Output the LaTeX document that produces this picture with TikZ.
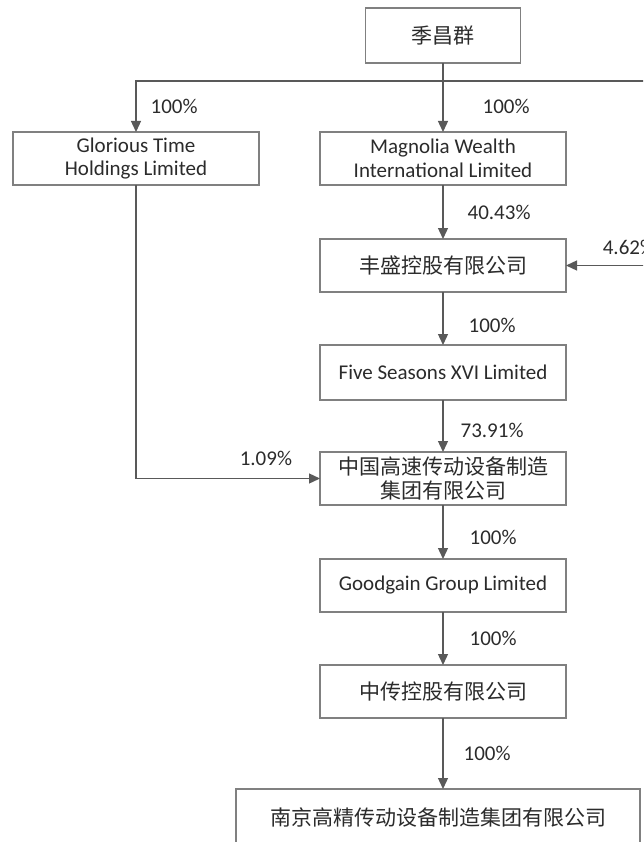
\documentclass[tikz,border=0pt]{standalone}
\usepackage{fontspec}
\setmainfont{Carlito}
\newfontfamily\cjk{Noto Sans CJK SC}
\usetikzlibrary{positioning,arrows.meta}

\definecolor{boxgray}{HTML}{808080}
\definecolor{linegray}{HTML}{595959}
\definecolor{txtgray}{HTML}{2B2B2B}

\tikzset{
  firm/.style={draw=boxgray, line width=1.4pt, fill=white, text=txtgray,
    minimum width=246pt, minimum height=53pt, inner sep=2pt, outer sep=0pt,
    align=center, font=\fontsize{21pt}{23.5pt}\selectfont},
  firmcn/.style={firm, font=\cjk\fontsize{21pt}{24pt}\selectfont},
  conn/.style={draw=linegray, line width=1.3pt, -{Triangle[length=11pt,width=10pt]}},
  pct/.style={text=txtgray, inner sep=0pt, font=\fontsize{21pt}{24pt}\selectfont},
}

\begin{document}
\begin{tikzpicture}[x=1pt,y=1pt]
  \useasboundingbox (0,0) rectangle (643,-842);
  \clip (0,0) rectangle (643,-842);

  \node[firmcn, minimum width=155pt, minimum height=55pt] (Jcq) at (443,-35.5) {季昌群};
  \node[firm, below = 69pt of Jcq] (Mw) {Magnolia Wealth\\International Limited};
  \node[firm, left = 61pt of Mw] (Gt) {Glorious Time\\Holdings Limited};
  \node[firmcn, below = 54pt of Mw] (Fs) {丰盛控股有限公司};
  \node[firm, below = 53pt of Fs, minimum height=55pt] (Fv) {Five Seasons XVI Limited};
  \node[firmcn, below = 52pt of Fv] (Zg) {中国高速传动设备制造\\集团有限公司};
  \node[firm, below = 54pt of Zg] (Gg) {Goodgain Group Limited};
  \node[firmcn, below = 53pt of Gg] (Zc) {中传控股有限公司};
  \node[firmcn, below = 71pt of Zc, xshift=-5pt, minimum width=404pt, minimum height=56pt] (Nj) {南京高精传动设备制造集团有限公司};

  \coordinate (Hub) at (443,-81);
  \coordinate (Rt) at (700,-81);
  \coordinate (RtLow) at (Rt |- Fs.east);

  \draw[draw=linegray, line width=1.3pt] (Jcq) -- (Hub);
  \draw[conn] (Hub) -| node[pct, pos=0.75, right=14pt] {100\%} (Gt);
  \draw[conn] (Hub) -- node[pct, right=39pt] {100\%} (Mw);
  \draw[conn] (Hub) -- (Rt) -- (RtLow) -- node[pct, pos=0.73, anchor=south west, yshift=10pt] {4.62\%} (Fs.east);

  \draw[conn] (Mw) -- node[pct, right=24pt] {40.43\%} (Fs);
  \draw[conn] (Fs) -- node[pct, right=25pt, yshift=-7pt] {100\%} (Fv);
  \draw[conn] (Fv) -- node[pct, right=17pt, yshift=-4pt] {73.91\%} (Zg);
  \draw[conn] (Gt) |- node[pct, pos=0.853, above=12pt] {1.09\%} (Zg);
  \draw[conn] (Zg) -- node[pct, right=26pt, yshift=-5pt] {100\%} (Gg);
  \draw[conn] (Gg) -- node[pct, right=26pt] {100\%} (Zc);
  \draw[conn] (Zc.south) -- node[pct, right=20pt] {100\%} (Zc.south |- Nj.north);

\end{tikzpicture}
\end{document}
